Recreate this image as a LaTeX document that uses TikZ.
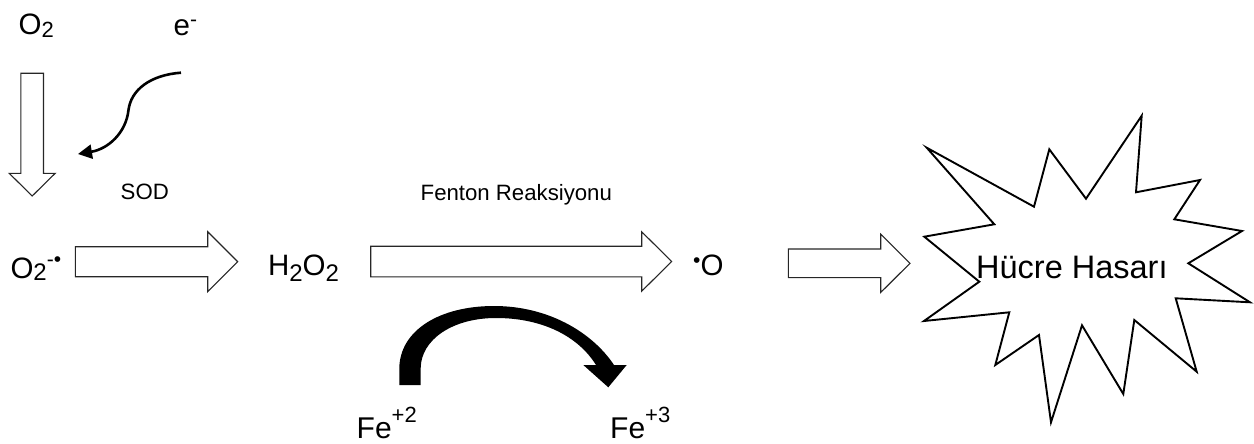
\documentclass[tikz,border=0pt]{standalone}
\usepackage{fontspec}
\setmainfont{Liberation Sans}
\usetikzlibrary{arrows.meta}

% lowered / raised small text: shift (pt), size (pt), text
\newcommand\lowsub[3]{\raisebox{-#1pt}{\fontsize{#2}{#2}\selectfont #3}}
\newcommand\highsup[3]{\raisebox{#1pt}{\fontsize{#2}{#2}\selectfont #3}}

\tikzset{
  chem/.style={anchor=base west, inner sep=0pt, font=\fontsize{29.5}{34}\selectfont},
  smalllabel/.style={anchor=base west, inner sep=0pt, font=\fontsize{22.2}{25}\selectfont},
  barrowline/.style={draw=black!85, line width=1.1pt, fill=white, line join=miter},
  pics/barrow/.style args={#1/#2/#3/#4}{code={
    \draw[barrowline] (0,-#2) -- (#1-#4,-#2) -- (#1-#4,-#3) -- (#1,0)
      -- (#1-#4,#3) -- (#1-#4,#2) -- (0,#2) -- cycle;}},
  burst/.style={draw=black, line width=1.9pt, fill=white, line join=miter},
}

\begin{document}
\begin{tikzpicture}[x=1pt,y=-1pt]
\useasboundingbox (0,0) rectangle (1254,444);

% species and labels
\node[chem] (o2) at (18.5,35) {O\lowsub{3}{22}{2}};
\node[chem] (el) at (173.5,36) {e\highsup{9}{21}{-}};
\node[smalllabel] (sod) at (120.5,199.3) {SOD};
\node[chem] (superox) at (10.3,278) {O\lowsub{2}{24}{2}\highsup{11.5}{21}{-•}};
\node[chem] (h2o2) at (267.8,275) {H\lowsub{6.5}{24}{2}O\lowsub{6.5}{24}{2}};
\node[smalllabel] (fenton) at (420.5,200) {Fenton Reaksiyonu};
\node[chem] (oh) at (693,275) {\highsup{8}{21}{•}O};
\node[chem, font=\fontsize{30}{34}\selectfont] (fe2) at (356.5,438.3) {Fe\highsup{16}{22}{+2}};
\node[chem, font=\fontsize{30}{34}\selectfont] (fe3) at (610,438.3) {Fe\highsup{16}{22}{+3}};

% block arrows: length / shaft half width / head half width / head length
\coordinate (dtail) at (32.2,73.3);
\coordinate (atail) at (75.3,261.7);
\coordinate (btail) at (370.7,261.5);
\coordinate (ctail) at (788.3,263.3);
\pic[rotate=-90] at (dtail) {barrow=122.7/11.3/23/22.7};
\pic at (atail) {barrow=162.4/15/30/30};
\pic at (btail) {barrow=301/15.3/29.7/30};
\pic at (ctail) {barrow=121.7/14.3/29.2/29.3};

% electron entering the reduction step
\coordinate (estart) at (181,72.7);
\coordinate (eend) at (78,154);
\draw[line width=2.6pt, -{Triangle[length=14pt,width=14pt]}]
  (estart) .. controls (150,75) and (131,90) .. (128.5,110)
           .. controls (126,133) and (108,149) .. (eend);

% starburst with the damage label
\draw[burst]
  (926.7,147.7) -- (1034,206.7) -- (1049.3,149.3) -- (1086,198.7)
  -- (1141.7,115.7) -- (1136,192.3) -- (1200,180) -- (1174.3,219.3)
  -- (1242,231) -- (1188.3,263.3) -- (1250,302.3) -- (1175.7,298.3)
  -- (1196.7,371.7) -- (1134.3,320) -- (1123.3,394) -- (1082,325.3)
  -- (1051,422.3) -- (1039,335) -- (995.3,365) -- (1009.3,312.3)
  -- (924,321) -- (979.3,281.7) -- (924.3,236.7) -- (994.3,224.3) -- cycle;
\node[anchor=base west, inner sep=0pt, font=\fontsize{32.5}{38}\selectfont]
  (damage) at (976,278.3) {Hücre Hasarı};

% curved iron oxidation arrow
\fill[black]
  (399.3,385) -- (399.3,368)
    .. controls (400,330) and (440,306) .. (494,306)
    .. controls (548,306) and (592,332) .. (614,365)
  -- (626.7,365) -- (608.3,387.3) -- (583.3,365) -- (596,365)
    .. controls (578,336) and (542,318) .. (496,318)
    .. controls (452,318) and (421,340) .. (420.7,368)
  -- (420.7,385) -- cycle;
\end{tikzpicture}
\end{document}
